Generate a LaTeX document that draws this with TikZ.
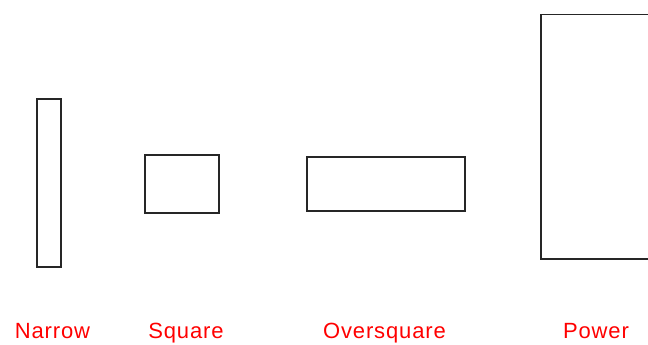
\documentclass[tikz,border=0pt]{standalone}
\usepackage{fontspec}
\setmainfont{Liberation Sans}[LetterSpace=4]
\usetikzlibrary{positioning}

\begin{document}
\begin{tikzpicture}[x=1pt, y=-1pt,
    bar/.style={draw=black!85, line width=1.6pt, inner sep=0pt},
    caption/.style={text=red, font=\fontsize{22}{24}\selectfont, anchor=base}]
  \clip (0,0) rectangle (648,345);
  \node[bar, minimum width=24pt, minimum height=168pt] (narrow) at (49,183) {};
  \node[bar, minimum width=74pt, minimum height=58pt] (square) at (182,184) {};
  \node[bar, minimum width=158pt, minimum height=54pt] (oversquare) at (386,184) {};
  \node[bar, minimum width=140pt, minimum height=244.5pt] (power) at (611,136.75) {};
  \node[caption] (narrowlbl) at (52.5,338) {Narrow};
  \node[caption] (squarelbl) at (186,338) {Square};
  \node[caption] (oversquarelbl) at (384.5,338) {Oversquare};
  \node[caption] (powerlbl) at (596,338) {Power};
\end{tikzpicture}
\end{document}
